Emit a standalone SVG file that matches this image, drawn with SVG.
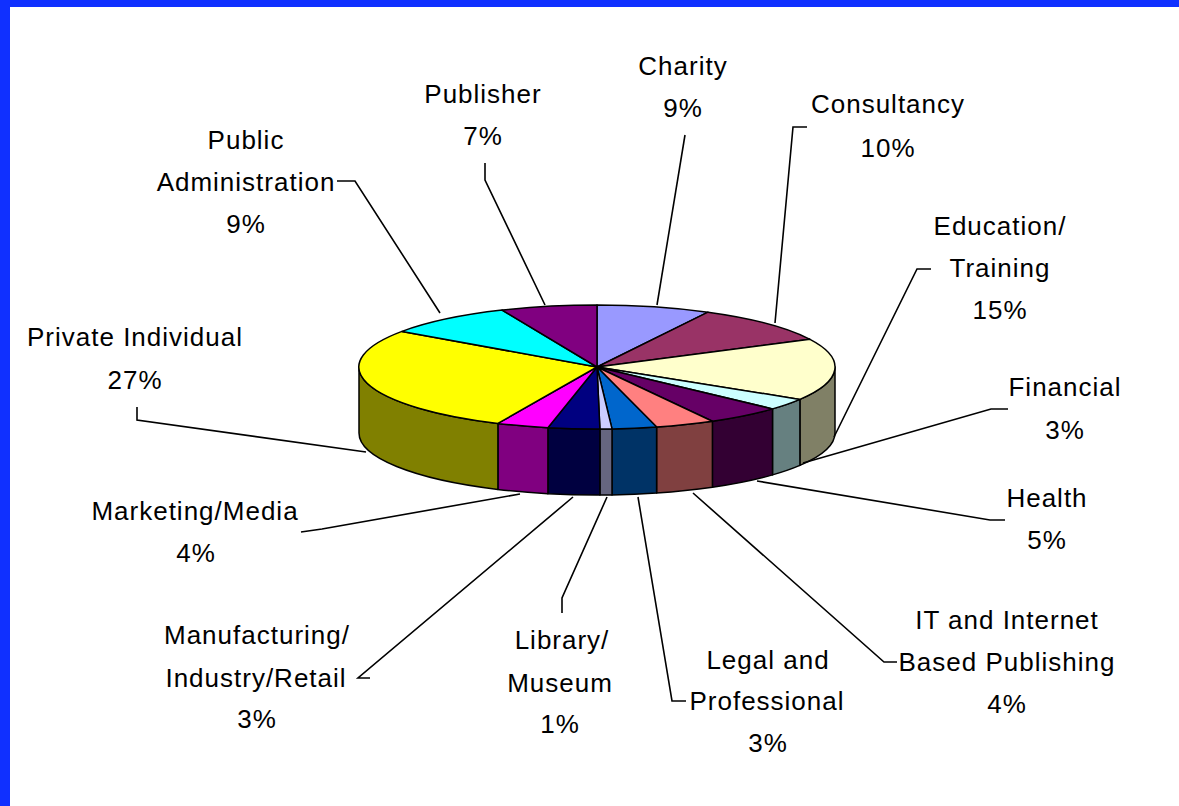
<svg xmlns="http://www.w3.org/2000/svg" width="1179" height="806" viewBox="0 0 1179 806">
<style>
.s{stroke:#000;stroke-width:1.5;stroke-linejoin:round}
.t{font-family:"Liberation Sans",Arial,sans-serif;font-size:26px;letter-spacing:1px;fill:#000;text-anchor:middle}
.l{fill:none;stroke:#000;stroke-width:1.6}
</style>
<rect x="0" y="0" width="1179" height="806" fill="#fff"/>
<rect x="0" y="0" width="1179" height="7" fill="#1030FF"/>
<rect x="0" y="0" width="10" height="806" fill="#1030FF"/>

<g id="pie-sides">
<path class="s" fill="#808066" d="M835,367 A238,62 0 0 1 799.9,399.4 L799.9,465.4 A238,62 0 0 0 835,433 Z"/>
<path class="s" fill="#668080" d="M799.9,399.4 A238,62 0 0 1 772.5,408.9 L772.5,474.9 A238,62 0 0 0 799.9,465.4 Z"/>
<path class="s" fill="#330033" d="M772.5,408.9 A238,62 0 0 1 712.4,421.2 L712.4,487.2 A238,62 0 0 0 772.5,474.9 Z"/>
<path class="s" fill="#804040" d="M712.4,421.2 A238,62 0 0 1 656.6,427 L656.6,493 A238,62 0 0 0 712.4,487.2 Z"/>
<path class="s" fill="#003366" d="M656.6,427 A238,62 0 0 1 612,428.9 L612,494.9 A238,62 0 0 0 656.6,493 Z"/>
<path class="s" fill="#666680" d="M612,428.9 A238,62 0 0 1 599.9,429 L599.9,495 A238,62 0 0 0 612,494.9 Z"/>
<path class="s" fill="#000040" d="M599.9,429 A238,62 0 0 1 547.9,427.7 L547.9,493.7 A238,62 0 0 0 599.9,495 Z"/>
<path class="s" fill="#800080" d="M547.9,427.7 A238,62 0 0 1 497.9,423.4 L497.9,489.4 A238,62 0 0 0 547.9,493.7 Z"/>
<path class="s" fill="#808000" d="M497.9,423.4 A238,62 0 0 1 359,367 L359,433 A238,62 0 0 0 497.9,489.4 Z"/>
</g>

<g id="slice-charity"><path class="s" fill="#9999FF" d="M597,367 L597,305 A238,62 0 0 1 708,312.2 Z"/></g>
<g id="slice-consultancy"><path class="s" fill="#993366" d="M597,367 L708,312.2 A238,62 0 0 1 810,339.3 Z"/></g>
<g id="slice-education"><path class="s" fill="#FFFFCC" d="M597,367 L810,339.3 A238,62 0 0 1 799.9,399.4 Z"/></g>
<g id="slice-financial"><path class="s" fill="#CCFFFF" d="M597,367 L799.9,399.4 A238,62 0 0 1 772.5,408.9 Z"/></g>
<g id="slice-health"><path class="s" fill="#660066" d="M597,367 L772.5,408.9 A238,62 0 0 1 712.4,421.2 Z"/></g>
<g id="slice-it"><path class="s" fill="#FF8080" d="M597,367 L712.4,421.2 A238,62 0 0 1 656.6,427 Z"/></g>
<g id="slice-legal"><path class="s" fill="#0066CC" d="M597,367 L656.6,427 A238,62 0 0 1 612,428.9 Z"/></g>
<g id="slice-library"><path class="s" fill="#CCCCFF" d="M597,367 L612,428.9 A238,62 0 0 1 599.9,429 Z"/></g>
<g id="slice-manufacturing"><path class="s" fill="#000080" d="M597,367 L599.9,429 A238,62 0 0 1 547.9,427.7 Z"/></g>
<g id="slice-marketing"><path class="s" fill="#FF00FF" d="M597,367 L547.9,427.7 A238,62 0 0 1 497.9,423.4 Z"/></g>
<g id="slice-private"><path class="s" fill="#FFFF00" d="M597,367 L497.9,423.4 A238,62 0 0 1 402,331.4 Z"/></g>
<g id="slice-public"><path class="s" fill="#00FFFF" d="M597,367 L402,331.4 A238,62 0 0 1 502.1,310.1 Z"/></g>
<g id="slice-publisher"><path class="s" fill="#800080" d="M597,367 L502.1,310.1 A238,62 0 0 1 597,305 Z"/></g>

<g id="connectors">
<path class="l" d="M485,163 V180 L545,305"/>
<path class="l" d="M685,135 L657,305"/>
<path class="l" d="M807,127 H793 L775,323"/>
<path class="l" d="M931,269 H917 L834,437"/>
<path class="l" d="M1008,409 H991 L803,463"/>
<path class="l" d="M1005,520 H990 L757,481"/>
<path class="l" d="M897,662 H884 L693,493"/>
<path class="l" d="M686,701 H672 L638,497"/>
<path class="l" d="M562,613 V598 L607,497"/>
<path class="l" d="M370,678 H358 L573,497"/>
<path class="l" d="M301,532 L322,529 L520,494"/>
<path class="l" d="M137,407 V420 L366,452"/>
<path class="l" d="M337,181 H355 L440,313"/>
</g>

<g id="label-charity"><text class="t" x="683" y="75">Charity</text><text class="t" x="683" y="117">9%</text></g>
<g id="label-consultancy"><text class="t" x="888" y="113">Consultancy</text><text class="t" x="888" y="157">10%</text></g>
<g id="label-education"><text class="t" x="1000" y="235">Education/</text><text class="t" x="1000" y="277">Training</text><text class="t" x="1000" y="319">15%</text></g>
<g id="label-financial"><text class="t" x="1065" y="396">Financial</text><text class="t" x="1065" y="439">3%</text></g>
<g id="label-health"><text class="t" x="1047" y="507">Health</text><text class="t" x="1047" y="549">5%</text></g>
<g id="label-it"><text class="t" x="1007" y="629">IT and Internet</text><text class="t" x="1007" y="671">Based Publishing</text><text class="t" x="1007" y="713">4%</text></g>
<g id="label-legal"><text class="t" x="768" y="669">Legal and</text><text class="t" x="767" y="710">Professional</text><text class="t" x="768" y="752">3%</text></g>
<g id="label-library"><text class="t" x="562" y="649">Library/</text><text class="t" x="560" y="692">Museum</text><text class="t" x="560" y="733">1%</text></g>
<g id="label-manufacturing"><text class="t" x="257" y="644">Manufacturing/</text><text class="t" x="256" y="687">Industry/Retail</text><text class="t" x="257" y="728">3%</text></g>
<g id="label-marketing"><text class="t" x="195" y="520">Marketing/Media</text><text class="t" x="196" y="562">4%</text></g>
<g id="label-private"><text class="t" x="135" y="346">Private Individual</text><text class="t" x="135" y="389">27%</text></g>
<g id="label-public"><text class="t" x="246" y="149">Public</text><text class="t" x="246" y="191">Administration</text><text class="t" x="246" y="233">9%</text></g>
<g id="label-publisher"><text class="t" x="483" y="103">Publisher</text><text class="t" x="483" y="145">7%</text></g>
</svg>
